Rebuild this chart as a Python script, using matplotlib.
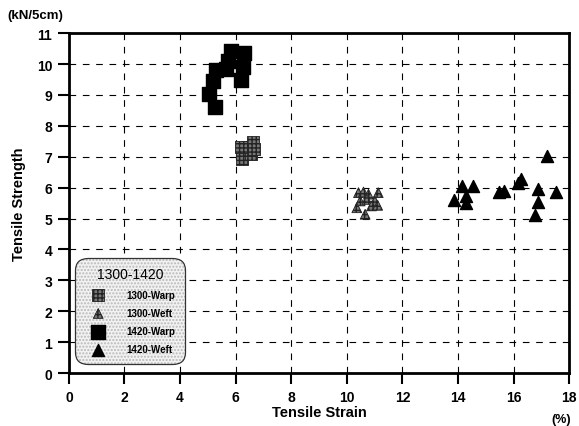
import numpy as np
import matplotlib
matplotlib.use('Agg')
import matplotlib.pyplot as plt

plt.rcParams['font.family'] = ['Liberation Sans', 'DejaVu Sans']

# 1300-Warp (hatched squares)
warp1300_x = [6.24, 6.42, 6.62, 6.24, 6.54, 6.65, 6.18]
warp1300_y = [7.15, 7.31, 7.47, 6.94, 7.10, 7.26, 7.31]
# 1300-Weft (hatched triangles)
weft1300_x = [10.42, 10.60, 10.78, 11.13, 10.48, 10.72, 11.01, 10.36, 10.89, 10.66, 11.11]
weft1300_y = [5.84, 5.86, 5.79, 5.84, 5.57, 5.62, 5.57, 5.35, 5.41, 5.14, 5.43]
# 1420-Warp (black squares)
warp1420_x = [5.82, 6.30, 6.26, 6.21, 5.74, 5.64, 5.29, 5.19, 5.04, 5.26]
warp1420_y = [10.43, 10.37, 9.89, 9.49, 10.10, 9.84, 9.82, 9.46, 9.03, 8.60]
# 1420-Weft (black triangles)
weft1420_x = [17.22, 14.14, 14.53, 14.30, 14.30, 13.85, 15.49, 15.67, 16.26, 16.17, 16.89, 17.54, 16.89, 16.78]
weft1420_y = [7.03, 6.06, 6.04, 5.73, 5.49, 5.60, 5.87, 5.90, 6.27, 6.14, 5.95, 5.87, 5.52, 5.10]

fig = plt.figure(figsize=(5.79, 4.27), dpi=100)
ax = fig.add_axes([0.119, 0.124, 0.864, 0.796])

h1 = ax.scatter(warp1300_x, warp1300_y, marker='s', s=75, facecolor='#777777',
                edgecolor='#222222', hatch='++++', linewidths=0.6, zorder=3)
h2 = ax.scatter(weft1300_x, weft1300_y, marker='^', s=50, facecolor='#777777',
                edgecolor='#222222', hatch='++++', linewidths=0.6, zorder=3)
h3 = ax.scatter(warp1420_x, warp1420_y, marker='s', s=90, facecolor='black',
                edgecolor='black', zorder=3)
h4 = ax.scatter(weft1420_x, weft1420_y, marker='^', s=75, facecolor='black',
                edgecolor='black', zorder=3)

ax.set_xlim(0, 18)
ax.set_ylim(0, 11)
ax.set_xticks(np.arange(0, 19, 2))
ax.set_yticks(np.arange(0, 12, 1))
ax.grid(True, color='black', linestyle=(0, (6, 6)), linewidth=0.8)
ax.set_axisbelow(True)
for s in ax.spines.values():
    s.set_linewidth(2)
ax.tick_params(direction='out', length=8, width=1.5, labelsize=10, pad=4)
for lbl in ax.get_xticklabels() + ax.get_yticklabels():
    lbl.set_fontweight('bold')

ax.set_xlabel('Tensile Strain', fontsize=10.5, fontweight='bold', labelpad=1)
ax.set_ylabel('Tensile Strength', fontsize=10.5, fontweight='bold', labelpad=8)
fig.text(0.012, 0.962, '(kN/5cm)', fontsize=9.5, fontweight='bold', va='center')
fig.text(0.97, 0.017, '(%)', fontsize=9, fontweight='bold', ha='center', va='center')

leg = ax.legend([h1, h2, h3, h4], ['1300-Warp', '1300-Weft', '1420-Warp', '1420-Weft'],
                title='1300-1420', loc='lower left', bbox_to_anchor=(0.012, 0.026),
                fancybox=True, framealpha=1, facecolor='#f2f2f2', edgecolor='#333333',
                prop={'size': 7, 'weight': 'bold'}, title_fontsize=10,
                handletextpad=1.5, labelspacing=0.85, borderpad=1.0, borderaxespad=0,
                handlelength=2.8, markerscale=1.0)
frame = leg.get_frame()
frame.set_linewidth(0.9)
frame.set_boxstyle('round,pad=0,rounding_size=1.3')
frame.set_hatch('.....')
frame._hatch_color = (0.72, 0.72, 0.72, 1.0)

fig.savefig('out.png', dpi=100)
